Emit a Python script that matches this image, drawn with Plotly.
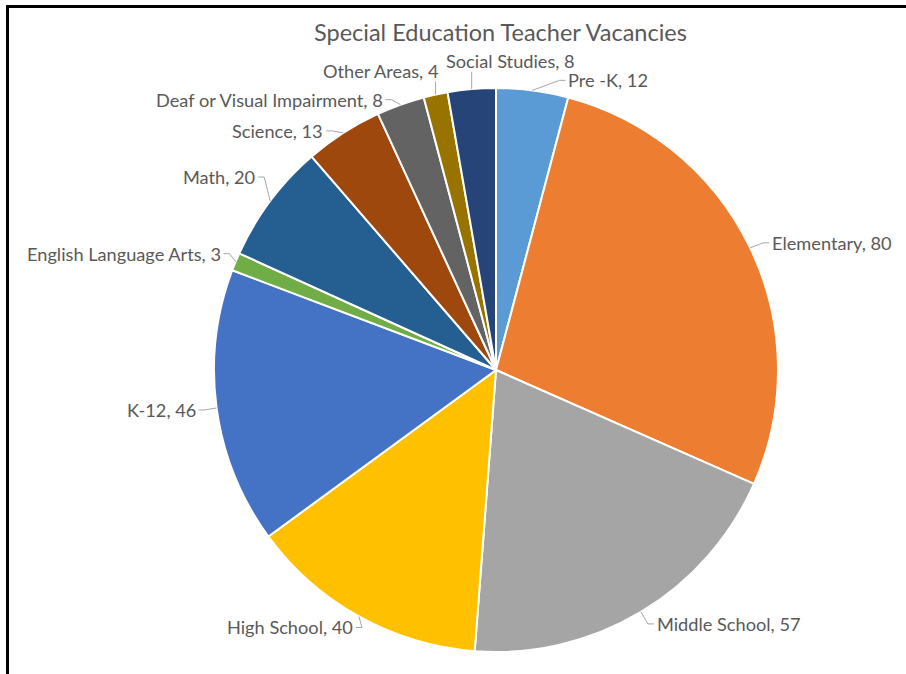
import math
import plotly.graph_objects as go

# ---- data ----
categories = ["Pre -K", "Elementary", "Middle School", "High School", "K-12",
              "English Language Arts", "Math", "Science",
              "Deaf or Visual Impairment", "Other Areas", "Social Studies"]
vacancies = [12, 80, 57, 40, 46, 3, 20, 13, 8, 4, 8]
colors = ["#5B9BD5", "#ED7D31", "#A5A5A5", "#FFC000", "#4472C4", "#70AD47",
          "#255E91", "#9E480E", "#636363", "#997300", "#264478"]
title_text = "Special Education Teacher Vacancies"

# ---- layout constants (pixels) ----
W, H = 906, 674
CX, CY, R = 496, 370, 282
FONT = "Lato"
LABEL_SIZE = 18.2
TITLE_SIZE = 23.5
TXT = "#595959"
LEADER = "#A6A6A6"
# label placement relative to slice edge point: (dx, dy, xanchor, yanchor)
label_place = [
    (35, -10, "left", "middle"),
    (21, -5, "left", "middle"),
    (15, 12, "left", "middle"),
    (-5, 11, "right", "middle"),
    (-20, 2, "right", "middle"),
    (-14, -8, "right", "middle"),
    (-14, -24, "right", "middle"),
    (-19, -2, "right", "middle"),
    (-17, -5, "right", "middle"),
    (4, -12, "right", "bottom"),
    (-27, -16, "left", "bottom"),
]


def px(x):
    return x / W


def py(y):
    return 1 - y / H


fig = go.Figure()
fig.add_trace(go.Pie(
    labels=categories, values=vacancies, sort=False, direction="clockwise",
    rotation=0, marker=dict(colors=colors, line=dict(color="white", width=2)),
    textinfo="none", hoverinfo="label+value", showlegend=False,
    domain=dict(x=[px(CX - R), px(CX + R)], y=[py(CY + R), py(CY - R)]),
))

total = sum(vacancies)
cum = 0
annotations = []
shapes = []
for cat, v, (dx, dy, xa, ya) in zip(categories, vacancies, label_place):
    mid = (cum + v / 2) / total * 2 * math.pi
    cum += v
    ex = CX + R * math.sin(mid)
    ey = CY - R * math.cos(mid)
    ax, ay = ex + dx, ey + dy
    annotations.append(dict(
        x=px(ax), y=py(ay), xref="paper", yref="paper", text=f"{cat}, {v}",
        showarrow=False, xanchor=xa, yanchor=ya, borderpad=0,
        font=dict(family=FONT, size=LABEL_SIZE, color=TXT)))
    if ya == "middle":
        s = 1 if xa == "left" else -1
        pts = [(ex, ey), (ax - s * 8, ay), (ax - s * 2, ay)]
    else:
        pts = [(ex, ey), (ex, ay - 1)]
    path = "M " + " L ".join(f"{px(x)},{py(y)}" for x, y in pts)
    shapes.append(dict(type="path", path=path, xref="paper", yref="paper",
                       line=dict(color=LEADER, width=1)))

annotations.append(dict(
    x=px(500), y=py(32), xref="paper", yref="paper", text=title_text,
    showarrow=False, xanchor="center", yanchor="middle",
    font=dict(family=FONT, size=TITLE_SIZE, color=TXT)))

# frame lines (top and left)
shapes.append(dict(type="line", xref="paper", yref="paper",
                   x0=px(6), y0=py(6.5), x1=1, y1=py(6.5),
                   line=dict(color="black", width=3)))
shapes.append(dict(type="line", xref="paper", yref="paper",
                   x0=px(7.5), y0=py(5), x1=px(7.5), y1=0,
                   line=dict(color="black", width=3)))

fig.update_layout(width=W, height=H, margin=dict(l=0, r=0, t=0, b=0),
                  paper_bgcolor="white", plot_bgcolor="white",
                  annotations=annotations, shapes=shapes)
fig.write_html("out.html", config={"displayModeBar": False},
               post_script="document.body.style.margin='0';"
                           "document.body.style.overflow='hidden';")
